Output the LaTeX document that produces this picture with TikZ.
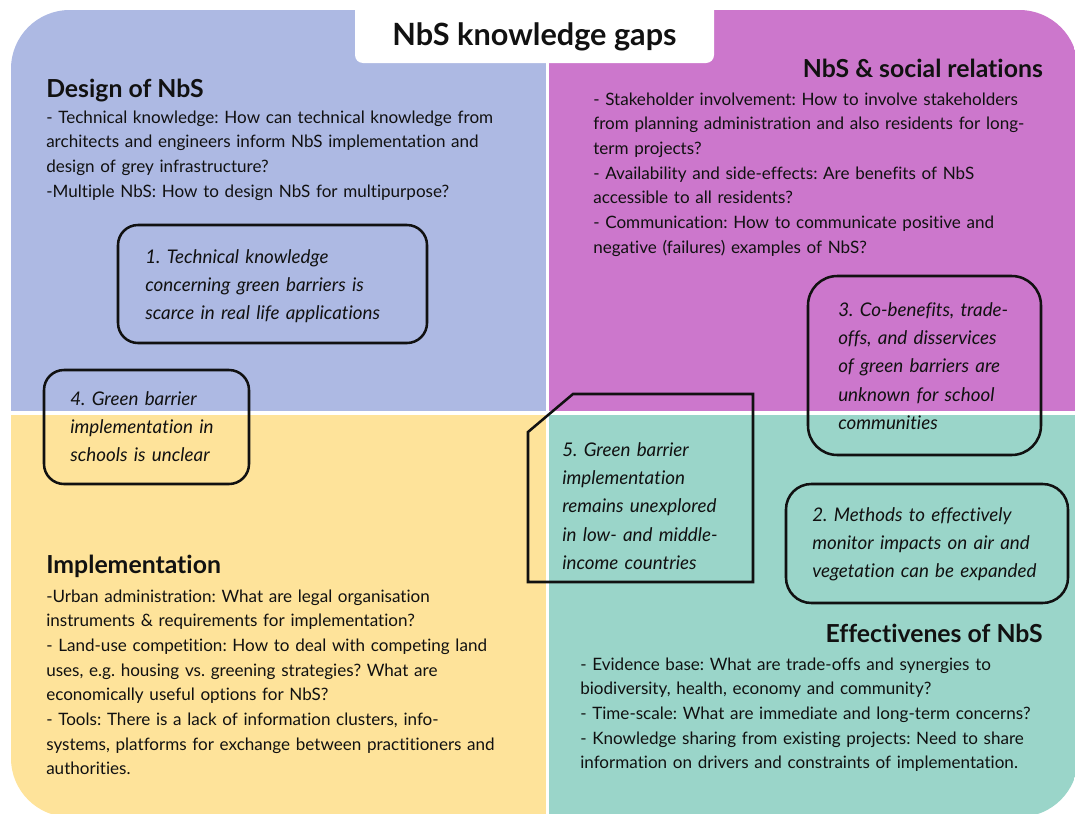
\documentclass[tikz,border=0pt]{standalone}
\usepackage{fontspec}
\setmainfont{Lato}[Ligatures=NoCommon]
\frenchspacing

\definecolor{designfill}{RGB}{173,185,227}
\definecolor{socialfill}{RGB}{204,119,204}
\definecolor{implfill}{RGB}{254,227,154}
\definecolor{effectfill}{RGB}{154,213,201}
\definecolor{ink}{RGB}{17,17,17}

\tikzset{
  body/.style={anchor=base west, inner sep=0pt, text width=520pt, align=left,
    font=\fontsize{12.8}{18.5}\selectfont, text=ink},
  gaptext/.style={anchor=base west, inner sep=0pt, text width=250pt, align=left,
    font=\itshape\fontsize{14.1}{21.3}\selectfont, text=ink},
  head/.style={inner sep=0pt, font=\bfseries\fontsize{18.6}{22}\selectfont, text=ink},
  gapbox/.style={draw=ink, line width=1.9pt, inner sep=0pt},
  divider/.style={white, line width=2.4pt},
}

\begin{document}
\begin{tikzpicture}[x=0.75pt, y=-0.75pt]
\useasboundingbox (0,0) rectangle (1075,814);

% four coloured quadrants inside one large rounded outline
\begin{scope}
  \clip[rounded corners=44pt] (11,10) rectangle (1078,817);
  \fill[designfill] (0,0) rectangle (547.5,413);
  \fill[socialfill] (547.5,0) rectangle (1080,413);
  \fill[implfill]   (0,413) rectangle (547.5,820);
  \fill[effectfill] (547.5,413) rectangle (1080,820);
\end{scope}
\draw[divider] (547.5,40) -- (547.5,820);
\draw[divider] (0,413) -- (1080,413);

% title tab
\fill[white, rounded corners=6pt] (355,-10) rectangle (714,63);
\node[inner sep=0pt, anchor=base, font=\bfseries\fontsize{23}{27}\selectfont, text=ink]
  (title) at (534.5,45) {NbS knowledge gaps};

% Design of NbS
\node[head, anchor=base west] (designhead) at (46,97) {Design of NbS};
\node[body] (designtext) at (46,123) {- Technical knowledge: How can technical knowledge from\\
architects and engineers inform NbS implementation and\\
design of grey infrastructure?\\
-Multiple NbS: How to design NbS for multipurpose?};

% NbS & social relations
\node[head, anchor=base east] (socialhead) at (1043,77) {NbS \& social relations};
\node[body] (socialtext) at (593,105) {- Stakeholder involvement: How to involve stakeholders\\
from planning administration and also residents for long-\\
term projects?\\
- Availability and side-effects: Are benefits of NbS\\
accessible to all residents?\\
- Communication: How to communicate positive and\\
negative (failures) examples of NbS?};

% Implementation
\node[head, anchor=base west] (implhead) at (46,573) {Implementation};
\node[body] (impltext) at (46,602) {-Urban administration: What are legal organisation\\
instruments \& requirements for implementation?\\
- Land-use competition: How to deal with competing land\\
uses, e.g. housing vs. greening strategies? What are\\
economically useful options for NbS?\\
- Tools: There is a lack of information clusters, info-\\
systems, platforms for exchange between practitioners and\\
authorities.};

% Effectiveness of NbS
\node[head, anchor=base east] (effecthead) at (1043,642) {Effectivenes of NbS};
\node[body] (effecttext) at (580,670) {- Evidence base: What are trade-offs and synergies to\\
biodiversity, health, economy and community?\\
- Time-scale: What are immediate and long-term concerns?\\
- Knowledge sharing from existing projects: Need to share\\
information on drivers and constraints of implementation.};

% knowledge gap call-outs
\node[gapbox, rounded corners=15pt, minimum width=231.75pt, minimum height=88.5pt] (box1) at (272.5,284) {};
\node[gaptext] (gap1) at (145,263) {1. Technical knowledge\\
concerning green barriers is\\
scarce in real life applications};

\node[gapbox, rounded corners=15pt, minimum width=153.75pt, minimum height=85.5pt] (box4) at (146.5,427) {};
\node[gaptext] (gap4) at (70,405) {4. Green barrier\\
implementation in\\
schools is unclear};

\node[gapbox, rounded corners=22pt, minimum width=174.75pt, minimum height=134.25pt] (box3) at (924.5,365.5) {};
\node[gaptext] (gap3) at (838,316) {3. Co-benefits, trade-\\
offs, and disservices\\
of green barriers are\\
unknown for school\\
communities};

\node[gapbox, rounded corners=19pt, minimum width=211.5pt, minimum height=89.25pt] (box2) at (927,543.5) {};
\node[gaptext] (gap2) at (812,521) {2. Methods to effectively\\
monitor impacts on air and\\
vegetation can be expanded};

% box with one clipped corner
\coordinate (b5a) at (573,394);
\coordinate (b5b) at (753,394);
\coordinate (b5c) at (753,582);
\coordinate (b5d) at (528,582);
\coordinate (b5e) at (528,432);
\draw[draw=ink, line width=1.9pt, line join=miter] (b5a) -- (b5b) -- (b5c) -- (b5d) -- (b5e) -- cycle;
\node[gaptext] (gap5) at (562,456) {5. Green barrier\\
implementation\\
remains unexplored\\
in low- and middle-\\
income countries};

\end{tikzpicture}
\end{document}
